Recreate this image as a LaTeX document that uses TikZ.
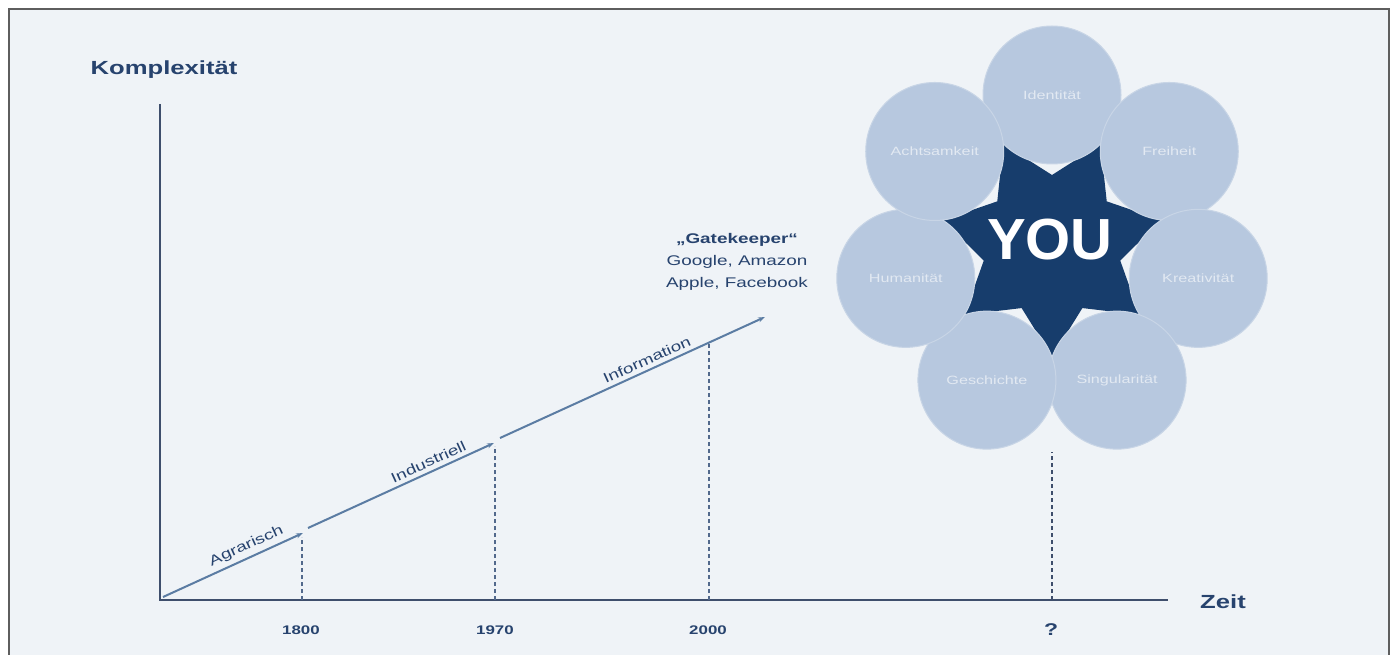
\documentclass[tikz,border=0pt]{standalone}
\usepackage{fontspec}
\setmainfont{Liberation Sans}
\newfontfamily\widesans[FakeStretch=1.35]{Liberation Sans}
\usetikzlibrary{arrows.meta}

\definecolor{pagebg}{HTML}{EFF3F7}
\definecolor{framec}{HTML}{5E5E5E}
\definecolor{axisc}{HTML}{3E4E6C}
\definecolor{inkc}{HTML}{27436E}
\definecolor{trendc}{HTML}{5B7CA3}
\definecolor{guidec}{HTML}{52698C}
\definecolor{petal}{HTML}{B7C8DF}
\definecolor{petaledge}{HTML}{C8D5E6}
\definecolor{petaltext}{HTML}{E2E9F2}
\definecolor{starc}{HTML}{173D6C}

\tikzset{
  axisline/.style={draw=axisc, line width=2.6pt},
  axislabel/.style={text=inkc, font=\widesans\bfseries\fontsize{19}{22}\selectfont, inner sep=0pt},
  yearlabel/.style={text=inkc, font=\widesans\bfseries\fontsize{12.5}{14}\selectfont, inner sep=0pt},
  trend/.style={draw=trendc, line width=2pt, -{Stealth[length=7pt,width=5pt]}},
  eralabel/.style={text=inkc, font=\widesans\fontsize{14}{16}\selectfont, sloped, above=3pt, inner sep=1pt},
  guide/.style={draw=guidec, line width=1.3pt, dash pattern=on 4pt off 3pt},
  petalnode/.style={circle, minimum size=138pt, inner sep=0pt, fill=petal, draw=petaledge, line width=1pt,
    text=petaltext, font=\widesans\fontsize{12}{14}\selectfont},
}

\begin{document}
\begin{tikzpicture}[x=1pt, y=-1pt]
\useasboundingbox (0,0) rectangle (1393,655);
\fill[white] (0,0) rectangle (1393,655);
\fill[pagebg] (9,9) rectangle (1389,655);
\draw[framec, line width=1.6pt] (9,655) -- (9,9) -- (1389,9) -- (1389,655);

% axes
\coordinate (O) at (160,600);
\coordinate (ytop) at (160,104);
\coordinate (xend) at (1168,600);
\draw[axisline] (ytop) -- (O) -- (xend);
\node[axislabel] (ylab) at (164,70) {Komplexität};
\node[axislabel] (xlab) at (1223,602) {Zeit};

% growth arrows
\coordinate (a0) at (163,597);
\coordinate (a1) at (303,533);
\coordinate (b0) at (308,528);
\coordinate (b1) at (494,443);
\coordinate (c0) at (500,438);
\coordinate (c1) at (765,317);
\draw[trend] (a0) -- node[eralabel, pos=0.63] (agr) {Agrarisch} (a1);
\draw[trend] (b0) -- node[eralabel, pos=0.67] (ind) {Industriell} (b1);
\draw[trend] (c0) -- node[eralabel, pos=0.57] (inf) {Information} (c1);

% time marks
\coordinate (t1800) at (302,600);
\coordinate (u1800) at (302,537);
\coordinate (t1970) at (495,600);
\coordinate (u1970) at (495,446);
\coordinate (t2000) at (709,600);
\coordinate (u2000) at (709,343);
\coordinate (tq) at (1052,600);
\coordinate (uq) at (1052,452);
\draw[guide] (t1800) -- (u1800);
\draw[guide] (t1970) -- (u1970);
\draw[guide] (t2000) -- (u2000);
\draw[guide, line width=1.8pt, draw=axisc] (tq) -- (uq);
\node[yearlabel] (y1800) at (301,630) {1800};
\node[yearlabel] (y1970) at (495,630) {1970};
\node[yearlabel] (y2000) at (708,630) {2000};
\node[yearlabel, font=\widesans\bfseries\fontsize{17}{18}\selectfont] (yq) at (1051,630) {?};

% gatekeepers
\node[text=inkc, align=center, font=\widesans\fontsize{14}{22}\selectfont, inner sep=0pt] (gate) at (737,262)
  {{\bfseries „Gatekeeper“}\\Google, Amazon\\Apple, Facebook};

% central star, partly covered by the petals
\fill[starc, shift={(1052,245)}] (-64.29:112)
  \foreach \k in {1,...,7}{ -- ({-90+51.4286*\k}:70) -- ({-64.29+51.4286*\k}:112)} -- cycle;

% petals
\foreach \k/\txt in {0/Identität, 1/Freiheit, 2/Kreativität, 3/Singularität, 4/Geschichte, 5/Humanität, 6/Achtsamkeit}{
  \node[petalnode] (p\k) at ({1052+150*cos(-90+51.4286*\k)},{245+150*sin(-90+51.4286*\k)}) {\txt};
}

\node[text=white, font=\bfseries\fontsize{58}{60}\selectfont, inner sep=0pt] (you) at (1050,240) {YOU};
\end{tikzpicture}
\end{document}
